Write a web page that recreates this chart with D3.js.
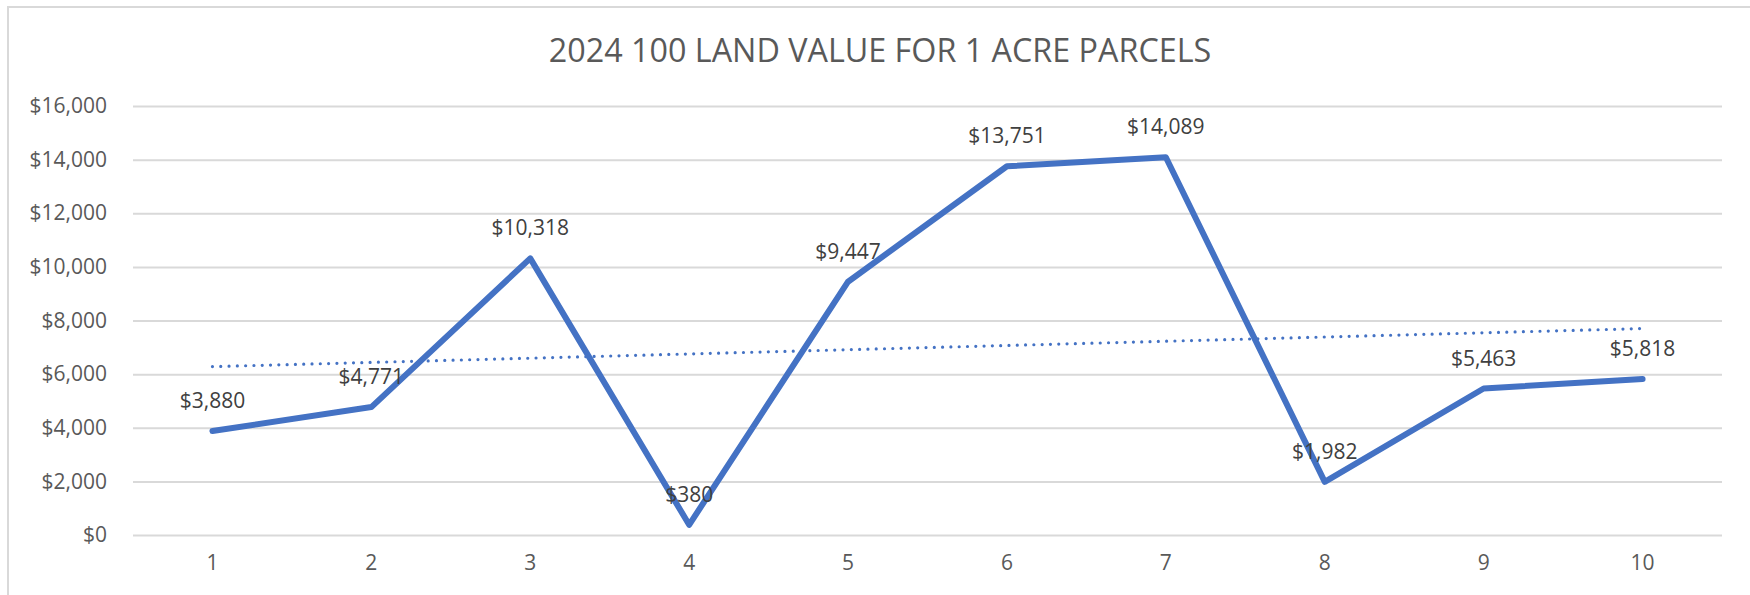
<!DOCTYPE html>
<html>
<head>
<meta charset="utf-8">
<script src="https://cdn.jsdelivr.net/npm/d3@7"></script>
<style>
  body { margin: 0; background: #fff; overflow: hidden; }
  text { font-family: "Open Sans", "Liberation Sans", sans-serif; }
</style>
</head>
<body>
<div id="content"></div>
<script>
const categories = ["1", "2", "3", "4", "5", "6", "7", "8", "9", "10"];
const values = [3880, 4771, 10318, 380, 9447, 13751, 14089, 1982, 5463, 5818];
const yTicks = [0, 2000, 4000, 6000, 8000, 10000, 12000, 14000, 16000];
const title = "2024 100 LAND VALUE FOR 1 ACRE PARCELS";

const W = 1750;
const H = 595;
const margin = { left: 133, top: 106, right: 28, bottom: 60 };
const innerWidth = W - margin.left - margin.right;
const innerHeight = H - margin.top - margin.bottom;

const money = d => "$" + d3.format(",")(d);

const svg = d3.select("#content")
  .append("svg")
  .attr("width", W)
  .attr("height", H)
  .style("display", "block");

svg.append("rect")
  .attr("width", W)
  .attr("height", H)
  .attr("fill", "white");

// chart area border: only the left and top edges are inside the window
svg.append("path")
  .attr("d", `M8,${H}V7H${W}`)
  .attr("fill", "none")
  .attr("stroke", "#d9d9d9")
  .attr("stroke-width", 2);

svg.append("text")
  .attr("x", 880)
  .attr("y", 62)
  .attr("text-anchor", "middle")
  .attr("font-size", 32.3)
  .attr("fill", "#595959")
  .text(title);

const x = d3.scaleBand().domain(categories).range([0, innerWidth]);
const y = d3.scaleLinear().domain([0, 16000]).range([innerHeight, 0]);

const g = svg.append("g")
  .attr("transform", `translate(${margin.left},${margin.top})`);

// gridlines + y labels
const yAxis = d3.axisLeft(y)
  .tickValues(yTicks)
  .tickFormat(money)
  .tickSize(-innerWidth)
  .tickPadding(26);

g.append("g")
  .call(yAxis)
  .call(a => a.select(".domain").remove())
  .call(a => a.selectAll("line").attr("stroke", "#d9d9d9").attr("stroke-width", 2))
  .call(a => a.selectAll("text")
    .attr("font-size", 21)
    .attr("fill", "#595959"));

// x labels
const xAxis = d3.axisBottom(x).tickSize(0).tickPadding(20);
g.append("g")
  .attr("transform", `translate(0,${innerHeight})`)
  .call(xAxis)
  .call(a => a.select(".domain").remove())
  .call(a => a.selectAll("text")
    .attr("font-size", 21)
    .attr("fill", "#595959"));

const cx = d => x(d) + x.bandwidth() / 2;

// linear trendline (least squares over category index)
const n = values.length;
const xs = values.map((_, i) => i + 1);
const mx = d3.mean(xs), my = d3.mean(values);
const slope = d3.sum(xs, (xi, i) => (xi - mx) * (values[i] - my)) / d3.sum(xs, xi => (xi - mx) ** 2);
const icpt = my - slope * mx;

g.append("line")
  .attr("x1", cx(categories[0]))
  .attr("x2", cx(categories[n - 1]))
  .attr("y1", y(icpt + slope * 1))
  .attr("y2", y(icpt + slope * n))
  .attr("stroke", "#4472c4")
  .attr("stroke-width", 3.2)
  .attr("stroke-linecap", "round")
  .attr("stroke-dasharray", "0 8.3");

// main line
const line = d3.line()
  .x((d, i) => cx(categories[i]))
  .y(d => y(d));

g.append("path")
  .datum(values)
  .attr("d", line)
  .attr("fill", "none")
  .attr("stroke", "#4472c4")
  .attr("stroke-width", 6)
  .attr("stroke-linejoin", "round")
  .attr("stroke-linecap", "round");

// data labels
g.selectAll(".lbl")
  .data(values)
  .join("text")
  .attr("class", "lbl")
  .attr("x", (d, i) => cx(categories[i]))
  .attr("y", d => y(d) - 23)
  .attr("text-anchor", "middle")
  .attr("font-size", 21)
  .attr("fill", "#404040")
  .text(money);
</script>
</body>
</html>
